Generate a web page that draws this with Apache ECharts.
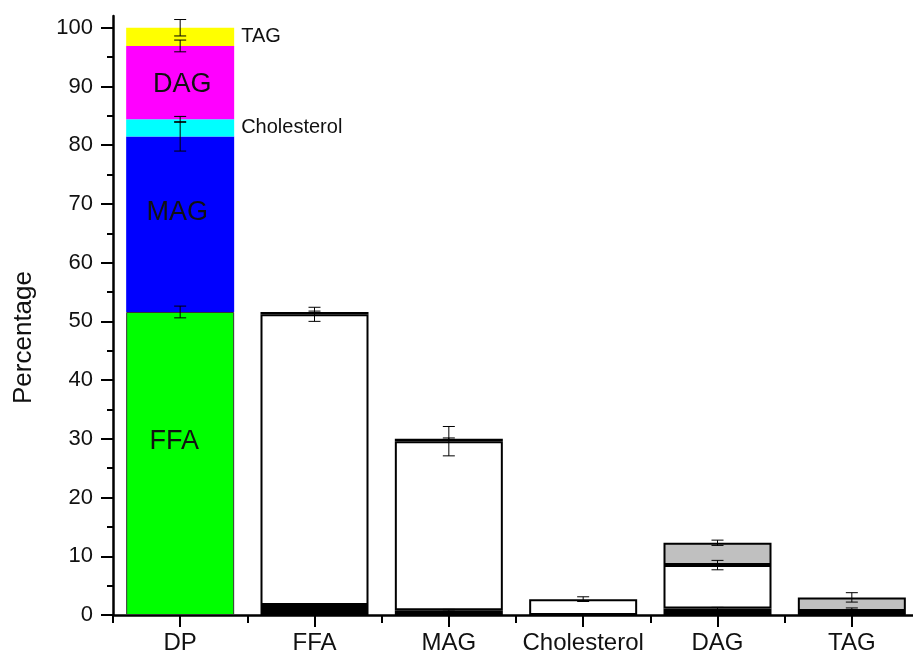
<!DOCTYPE html>
<html>
<head>
<meta charset="utf-8">
<script src="https://cdn.jsdelivr.net/npm/echarts@6/dist/echarts.min.js"></script>
<style>
html,body{margin:0;padding:0;background:#fff;}
#chart{width:913px;height:655px;}
</style>
</head>
<body>
<div id="chart"></div>
<script>
// ---- data ----
const categories = ['DP', 'FFA', 'MAG', 'Cholesterol', 'DAG', 'TAG'];
// composition of DP (stacked, coloured)
const dpNames = ['FFA', 'MAG', 'Cholesterol', 'DAG', 'TAG'];
const dpValues = [51.6, 29.9, 2.9, 12.5, 3.1];
const dpErrors = [1.0, 2.5, 0.5, 1.0, 1.4];
// fractions of the individual lipid classes (stacked: black, white, grey)
const blackValues = [null, 1.7, 0.8, null, 1.1, 0.1];
const whiteValues = [null, 49.5, 28.8, 2.7, 7.4, 0.6];
const grayValues  = [null, 0.4, 0.4, null, 3.8, 2.3];
const blackErrors = [null, 0.2, 0.15, null, 0.2, 0.15];
const whiteErrors = [null, 1.2, 2.5, 0.4, 0.8, 0.5];
const grayErrors  = [null, 0.15, 0.15, null, 0.45, 0.8];
const yMajorTicks = [0, 10, 20, 30, 40, 50, 60, 70, 80, 90, 100];
const yMinorTicks = [5, 15, 25, 35, 45, 55, 65, 75, 85, 95];

// ---- style ----
const FONT = 'Liberation Sans, Arial, sans-serif';
const dpColors = ['#00ff00', '#0000ff', '#00ffff', '#ff00ff', '#ffff00'];
const dpLabelStyle = [
  {position: 'inside', fontSize: 27, offset: [-6, -22]},
  {position: 'inside', fontSize: 27, offset: [-3, -12]},
  {position: 'right', fontSize: 20, distance: 7, offset: [0, 0]},
  {position: 'inside', fontSize: 27, offset: [2, 2]},
  {position: 'right', fontSize: 20, distance: 7, offset: [0, 0]}
];

const series = [];
dpNames.forEach((name, i) => {
  series.push({
    name: name,
    type: 'bar',
    stack: 'total',
    barWidth: 108,
    data: categories.map((c, j) => j === 0 ? dpValues[i] : '-'),
    itemStyle: {color: dpColors[i], borderColor: i === 0 ? '#333' : dpColors[i], borderWidth: i === 0 ? 1 : 0},
    label: Object.assign({
      show: true,
      formatter: name,
      color: '#111',
      fontFamily: FONT
    }, dpLabelStyle[i]),
    z: 2
  });
});
const partFills = ['#000000', '#ffffff', '#c0c0c0'];
[blackValues, whiteValues, grayValues].forEach((arr, k) => {
  series.push({
    name: 'part' + k,
    type: 'bar',
    stack: 'total',
    barWidth: 108,
    data: arr.map(v => v === null ? '-' : v),
    itemStyle: {color: partFills[k], borderColor: '#000', borderWidth: 2},
    z: 2
  });
});

// error bars, centred at the top of each stacked segment
const errData = [];
let cum = 0;
dpValues.forEach((v, i) => { cum += v; errData.push([0, cum, dpErrors[i]]); });
for (let j = 1; j < categories.length; j++) {
  let c = 0;
  [[blackValues, blackErrors], [whiteValues, whiteErrors], [grayValues, grayErrors]].forEach(([vals, errs]) => {
    if (vals[j] !== null) { c += vals[j]; errData.push([j, c, errs[j]]); }
  });
}
series.push({
  type: 'custom',
  xAxisIndex: 0,
  yAxisIndex: 0,
  z: 10,
  data: errData,
  encode: {x: 0, y: 1},
  renderItem: function (params, api) {
    const x = api.value(0), top = api.value(1), err = api.value(2);
    const hi = api.coord([x, top + err]);
    const lo = api.coord([x, top - err]);
    const w = 6;
    const st = {stroke: '#000', lineWidth: 1};
    return {type: 'group', children: [
      {type: 'line', shape: {x1: hi[0], y1: hi[1], x2: lo[0], y2: lo[1]}, style: st},
      {type: 'line', shape: {x1: hi[0] - w, y1: hi[1], x2: hi[0] + w, y2: hi[1]}, style: st},
      {type: 'line', shape: {x1: lo[0] - w, y1: lo[1], x2: lo[0] + w, y2: lo[1]}, style: st}
    ]};
  }
});

const chart = echarts.init(document.getElementById('chart'), null, {renderer: 'canvas'});
chart.setOption({
  animation: false,
  backgroundColor: '#ffffff',
  grid: {left: 113, top: 16, width: 806, height: 599, containLabel: false, outerBoundsMode: 'none'},
  xAxis: [
    {
      type: 'category',
      data: categories,
      position: 'bottom',
      axisLine: {show: true, lineStyle: {color: '#000', width: 2.5}},
      axisTick: {show: true, alignWithLabel: true, interval: 0, length: 12, lineStyle: {color: '#000', width: 2}},
      axisLabel: {show: true, interval: 0, hideOverlap: false, color: '#111', fontSize: 24, fontFamily: FONT, margin: 16},
      splitLine: {show: false}
    },
    {
      type: 'category',
      data: categories,
      position: 'bottom',
      axisLine: {show: false},
      axisTick: {show: true, alignWithLabel: false, interval: 0, length: 8, lineStyle: {color: '#000', width: 2}},
      axisLabel: {show: false},
      splitLine: {show: false}
    }
  ],
  yAxis: [
    {
      type: 'value',
      min: 0,
      max: 102,
      name: 'Percentage',
      nameLocation: 'middle',
      nameGap: 76,
      nameTextStyle: {fontSize: 26, color: '#111', fontFamily: FONT, padding: [0, 44, 0, 0]},
      axisLine: {show: true, lineStyle: {color: '#000', width: 2.5}},
      axisTick: {show: true, length: 12, customValues: yMajorTicks, lineStyle: {color: '#000', width: 2}},
      axisLabel: {show: true, customValues: yMajorTicks, color: '#111', fontSize: 22, fontFamily: FONT, margin: 20},
      splitLine: {show: false}
    },
    {
      type: 'value',
      min: 0,
      max: 102,
      position: 'left',
      axisLine: {show: false},
      axisTick: {show: true, length: 6, customValues: yMinorTicks, lineStyle: {color: '#000', width: 2}},
      axisLabel: {show: false},
      splitLine: {show: false}
    }
  ],
  series: series
});
</script>
</body>
</html>
